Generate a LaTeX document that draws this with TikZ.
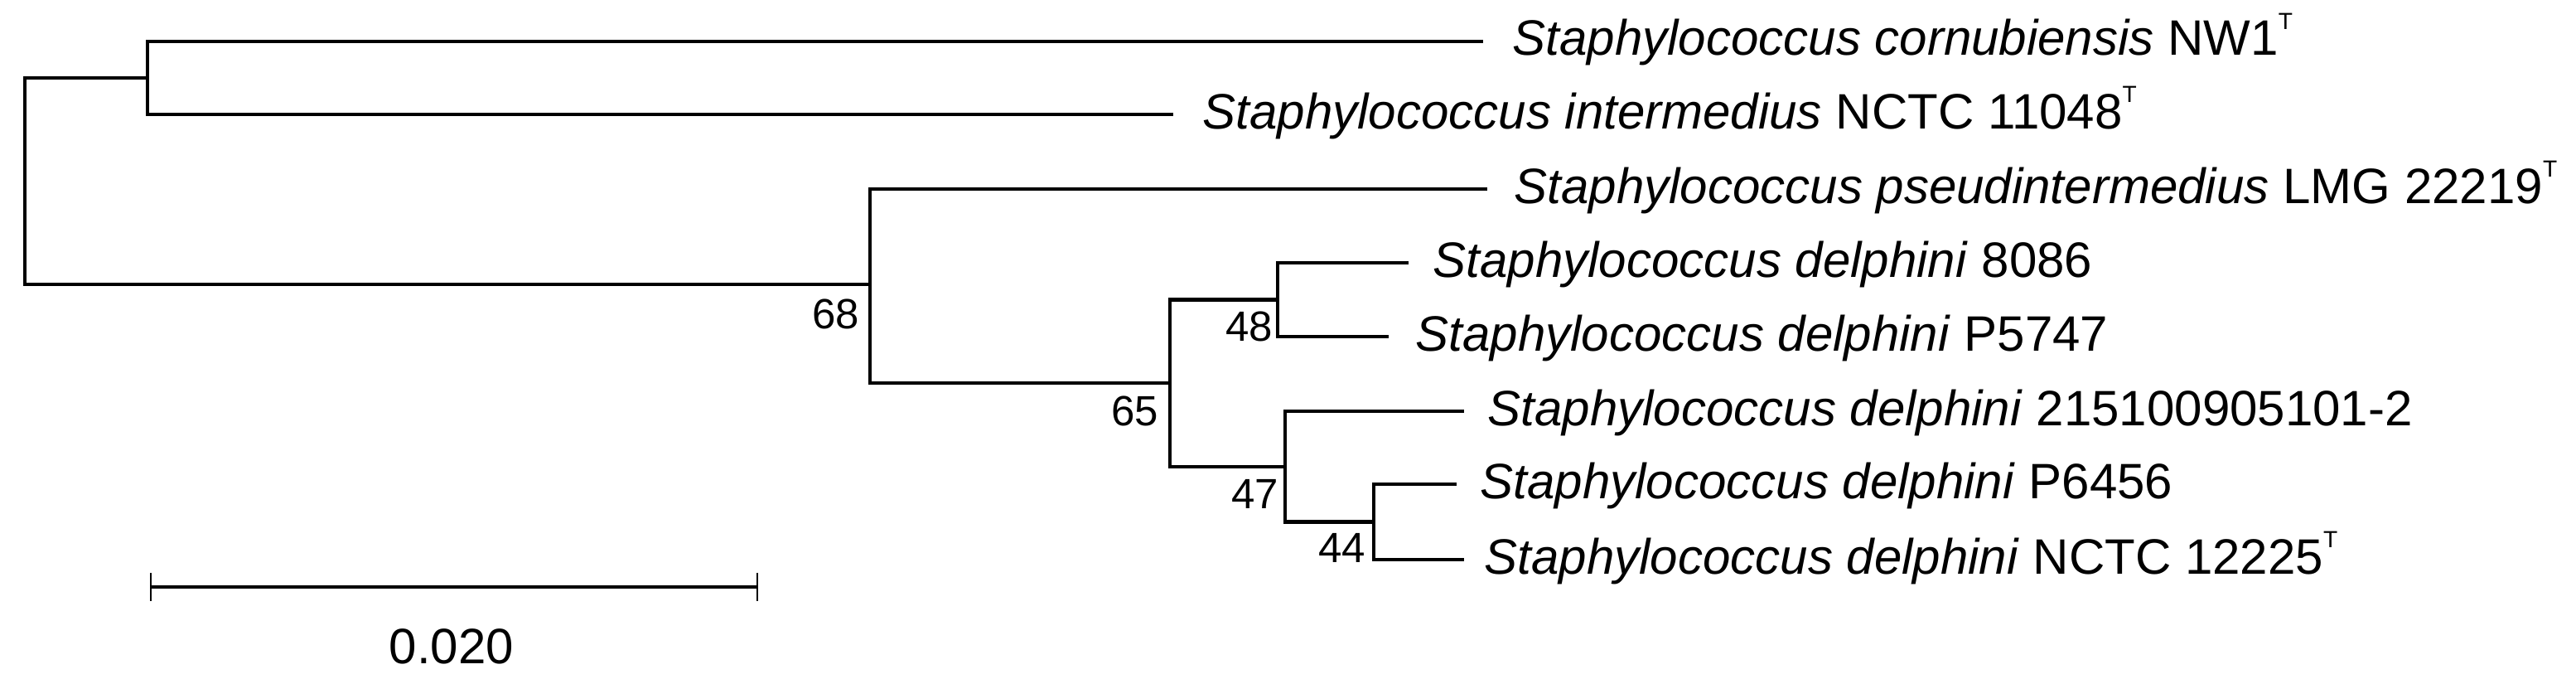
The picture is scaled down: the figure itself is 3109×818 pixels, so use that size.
\documentclass[tikz,border=0pt]{standalone}
\usepackage{fontspec}
\setmainfont{Liberation Sans}
\newcommand\typeT{\raisebox{0.52em}{\fontsize{8pt}{8pt}\selectfont T}}
\tikzset{
  branch/.style={draw=black, line width=1.3pt},
  leaf/.style={anchor=base west, inner sep=0pt, font=\fontsize{17.07pt}{20pt}\selectfont},
  boot/.style={anchor=north east, inner sep=0pt, font=\fontsize{14.5pt}{17pt}\selectfont},
  scalebar/.style={draw=black, line width=1pt},
  scaletick/.style={draw=black, line width=0.8pt},
}
\begin{document}
\begin{tikzpicture}[x=0.01cm, y=-0.01cm]
\useasboundingbox (0,0) rectangle (3109,818);
% tree nodes
\coordinate (R)   at (30,218.5);
\coordinate (A)   at (178,94);
\coordinate (n68) at (1050,343);
\coordinate (n65) at (1412,462);
\coordinate (n48) at (1542,361.5);
\coordinate (n47) at (1551,563);
\coordinate (n44) at (1658,629.5);
% leaf branch ends
\coordinate (e1) at (1790,50);
\coordinate (e2) at (1416,138);
\coordinate (e3) at (1795,228);
\coordinate (e4) at (1700,317);
\coordinate (e5) at (1676,406);
\coordinate (e6) at (1767,496);
\coordinate (e7) at (1758,584);
\coordinate (e8) at (1767,675);
% branches
\draw[branch] (R) |- (A);
\draw[branch] (R) |- (n68);
\draw[branch] (A) |- (e1);
\draw[branch] (A) |- (e2);
\draw[branch] (n68) |- (e3);
\draw[branch] (n68) |- (n65);
\draw[branch] (n65) |- (n48);
\draw[branch] (n65) |- (n47);
\draw[branch] (n48) |- (e4);
\draw[branch] (n48) |- (e5);
\draw[branch] (n47) |- (e6);
\draw[branch] (n47) |- (n44);
\draw[branch] (n44) |- (e7);
\draw[branch] (n44) |- (e8);
% leaf labels
\node[leaf] (l1) at (1825,67) {\textit{Staphylococcus cornubiensis} NW1\typeT};
\node[leaf] (l2) at (1451,155) {\textit{Staphylococcus intermedius} NCTC 11048\typeT};
\node[leaf] (l3) at (1827,245) {\textit{Staphylococcus pseudintermedius} LMG 22219\typeT};
\node[leaf] (l4) at (1729,334) {\textit{Staphylococcus delphini} 8086};
\node[leaf] (l5) at (1708,423) {\textit{Staphylococcus delphini} P5747};
\node[leaf] (l6) at (1795,513) {\textit{Staphylococcus delphini} 215100905101-2};
\node[leaf] (l7) at (1786,601) {\textit{Staphylococcus delphini} P6456};
\node[leaf] (l8) at (1791,692) {\textit{Staphylococcus delphini} NCTC 12225\typeT};
% bootstrap values
\node[boot] (b68) at (1038,360) {68};
\node[boot] (b65) at (1399,477) {65};
\node[boot] (b48) at (1537,375) {48};
\node[boot] (b47) at (1544,578) {47};
\node[boot] (b44) at (1649,643) {44};
% scale bar
\coordinate (s1) at (182,708);
\coordinate (s2) at (914,708);
\draw[scalebar] (s1) -- (s2);
\draw[scaletick] ([yshift=0.17cm]s1) -- ([yshift=-0.17cm]s1);
\draw[scaletick] ([yshift=0.17cm]s2) -- ([yshift=-0.17cm]s2);
\node[anchor=base, inner sep=0pt, font=\fontsize{17.07pt}{20pt}\selectfont] (sl) at (545,800) {0.020};
\end{tikzpicture}
\end{document}
